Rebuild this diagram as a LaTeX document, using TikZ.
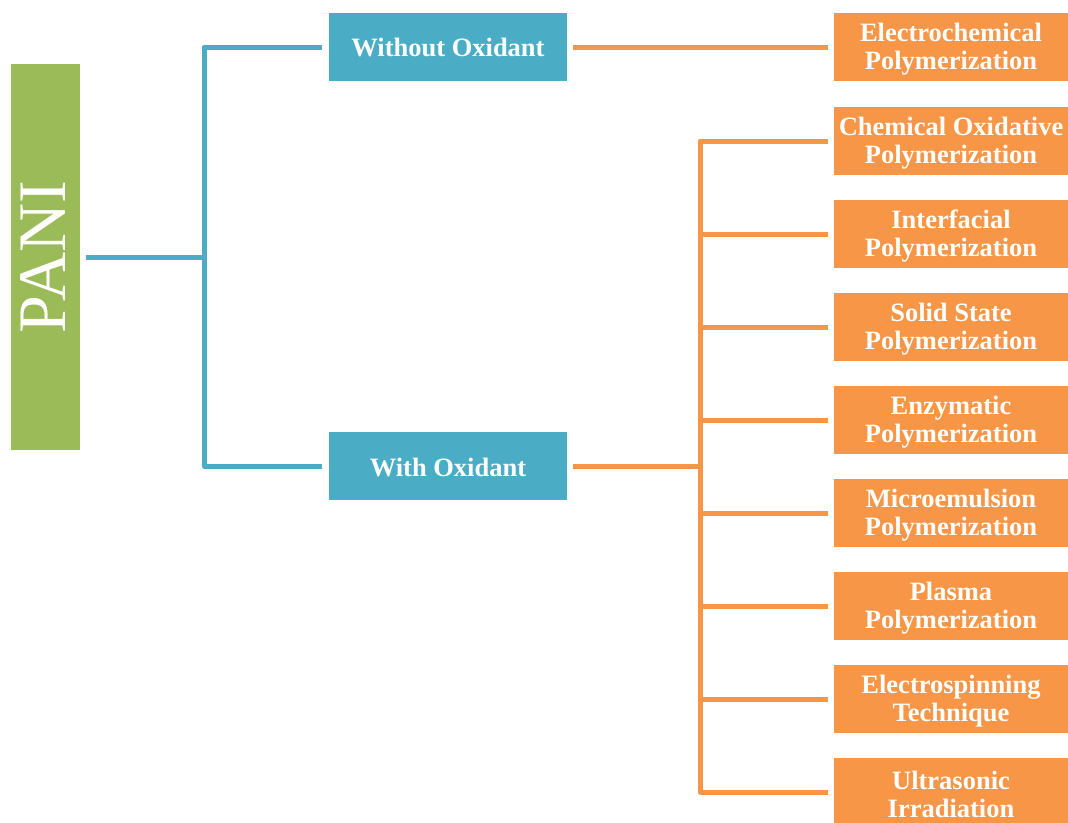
\documentclass[tikz,border=0pt]{standalone}
\usepackage{fontspec}
\setmainfont{Liberation Serif}
\definecolor{pgreen}{HTML}{9BBB59}
\definecolor{pblue}{HTML}{4BACC6}
\definecolor{porange}{HTML}{F79646}
\begin{document}
\begin{tikzpicture}[x=1pt,y=-1pt,
  boxtext/.style={text=white, font=\fontsize{26.5}{28}\selectfont\bfseries, align=center, inner sep=0pt},
  bluebox/.style={fill=pblue, minimum width=238pt, minimum height=68pt, inner sep=0pt, label={[boxtext, yshift=-1pt]center:#1}},
  orbox/.style={fill=porange, minimum width=234pt, minimum height=68pt, inner sep=0pt, label={[boxtext, yshift=-2.5pt]center:#1}},
  bline/.style={draw=pblue, line width=5pt, line join=round, shorten <=6pt, shorten >=7pt},
  oline/.style={draw=porange, line width=5pt, line join=round, shorten <=6pt, shorten >=6pt}]
\useasboundingbox (0,0) rectangle (1068,822);
\clip (0,0) rectangle (1068,822);
\node[fill=pgreen, minimum width=69pt, minimum height=386pt, inner sep=0pt] (pani) at (45.5,257) {};
\node[rotate=90, text=white, font=\fontsize{68}{70}\selectfont] at ([xshift=-2pt]pani.center) {PANI};
\node[bluebox={Without Oxidant}] (wo) at (448,47) {};
\node[bluebox={With Oxidant}] (wi) at (448,466) {};
\node[orbox={Electrochemical\\Polymerization}] (e1) at (951,47) {};
\node[orbox={Chemical Oxidative\\Polymerization}] (o1) at (951,141) {};
\node[orbox={Interfacial\\Polymerization}] (o2) at (951,234) {};
\node[orbox={Solid State\\Polymerization}] (o3) at (951,327) {};
\node[orbox={Enzymatic\\Polymerization}] (o4) at (951,420) {};
\node[orbox={Microemulsion\\Polymerization}] (o5) at (951,513) {};
\node[orbox={Plasma\\Polymerization}] (o6) at (951,606) {};
\node[orbox={Electrospinning\\Technique}] (o7) at (951,699) {};
\node[orbox={Ultrasonic\\Irradiation}] (o8) at (951,792) {};
\coordinate (bx) at (204,0);
\draw[bline] (pani.east) -| (bx |- wo.west) -- (wo.west);
\draw[bline] (pani.east) -| (bx |- wi.west) -- (wi.west);
\draw[oline] (wo.east) -- (e1.west);
\coordinate (ox) at (700,0);
\foreach \n in {o1,o2,o3,o4,o5,o6,o7,o8}
  \draw[oline] (wi.east) -| (ox |- \n.west) -- (\n.west);
\end{tikzpicture}
\end{document}
